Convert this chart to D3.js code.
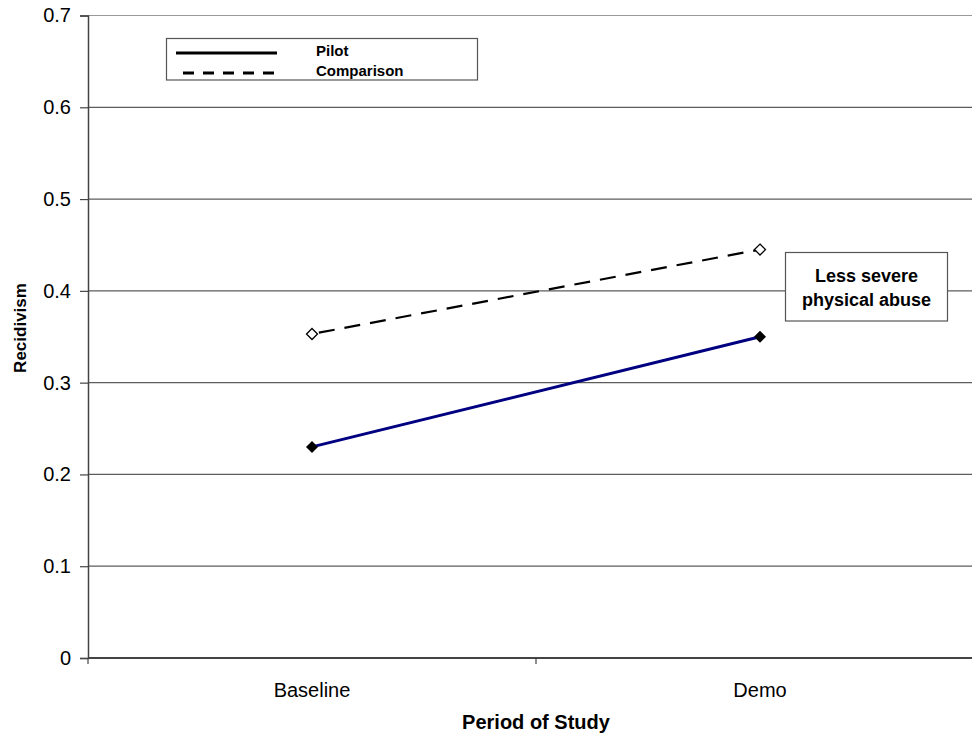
<!DOCTYPE html>
<html>
<head>
<meta charset="utf-8">
<script src="https://cdn.jsdelivr.net/npm/d3@7/dist/d3.min.js"></script>
<style>
  html, body { margin: 0; padding: 0; background: #fff; }
  svg { display: block; font-family: "Liberation Sans", Arial, sans-serif; }
</style>
</head>
<body>
<svg id="chart" width="972" height="734"></svg>
<script>
// Recidivism by period of study
const periods = ["Baseline", "Demo"];
const pilotValues = [0.23, 0.35];
const comparisonValues = [0.353, 0.445];
const yTicks = [0, 0.1, 0.2, 0.3, 0.4, 0.5, 0.6, 0.7];
const seriesNames = ["Pilot", "Comparison"];
const noteLines = ["Less severe", "physical abuse"];

const svg = d3.select("#chart");
const plotLeft = 88, plotRight = 984, plotTop = 15.5, plotBottom = 658;

const x = d3.scaleBand().domain(periods).range([plotLeft, plotRight]);
const y = d3.scaleLinear().domain([0, 0.7]).range([plotBottom, plotTop]);

// horizontal gridlines
svg.append("g")
  .selectAll("line")
  .data(yTicks.filter(d => d > 0))
  .join("line")
  .attr("x1", plotLeft).attr("x2", plotRight)
  .attr("y1", d => y(d)).attr("y2", d => y(d))
  .attr("stroke", d => d === 0.7 ? "#9a9a9a" : "#5c5c5c")
  .attr("stroke-width", 1.2);

// y axis
const yAxis = svg.append("g")
  .attr("transform", `translate(${plotLeft},0)`)
  .call(d3.axisLeft(y).tickValues(yTicks).tickFormat(d => d === 0 ? "0" : d3.format(".1f")(d)).tickSize(8).tickPadding(9));
yAxis.select(".domain").attr("stroke", "#444").attr("stroke-width", 1.5);
yAxis.selectAll(".tick line").attr("stroke", "#444").attr("stroke-width", 1.2);
yAxis.selectAll(".tick text")
  .attr("font-size", 20).attr("fill", "#000")
  .attr("font-family", "Liberation Sans, Arial, sans-serif");

// x axis
const xAxis = svg.append("g")
  .attr("transform", `translate(0,${plotBottom})`)
  .call(d3.axisBottom(x).tickSize(0).tickPadding(25));
xAxis.select(".domain").remove();
xAxis.selectAll(".tick text")
  .attr("font-size", 20).attr("fill", "#000")
  .attr("font-family", "Liberation Sans, Arial, sans-serif");
svg.append("line")
  .attr("x1", plotLeft).attr("x2", plotRight)
  .attr("y1", plotBottom).attr("y2", plotBottom)
  .attr("stroke", "#444").attr("stroke-width", 1.8);
// category boundary ticks
svg.append("g").selectAll("line")
  .data(periods.slice(1))
  .join("line")
  .attr("x1", d => x(d)).attr("x2", d => x(d))
  .attr("y1", plotBottom).attr("y2", plotBottom + 6)
  .attr("stroke", "#444").attr("stroke-width", 1.2);
svg.append("line")
  .attr("x1", plotLeft).attr("x2", plotLeft)
  .attr("y1", plotBottom).attr("y2", plotBottom + 6)
  .attr("stroke", "#444").attr("stroke-width", 1.2);

const cx = d => x(d) + x.bandwidth() / 2;
const line = d3.line().x(d => cx(d.p)).y(d => y(d.v));
const pilot = periods.map((p, i) => ({ p, v: pilotValues[i] }));
const comparison = periods.map((p, i) => ({ p, v: comparisonValues[i] }));

// comparison series: dashed black line, open diamonds
svg.append("path")
  .datum(comparison)
  .attr("d", line)
  .attr("fill", "none")
  .attr("stroke", "#000")
  .attr("stroke-width", 2.2)
  .attr("stroke-dasharray", "16,10")
  .attr("stroke-dashoffset", -7);

// pilot series: navy line, filled diamonds
svg.append("path")
  .datum(pilot)
  .attr("d", line)
  .attr("fill", "none")
  .attr("stroke", "#000080")
  .attr("stroke-width", 3);

const diamond = r => `M0,${-r}L${r},0L0,${r}L${-r},0Z`;
svg.append("g").selectAll("path")
  .data(comparison)
  .join("path")
  .attr("transform", d => `translate(${cx(d.p)},${y(d.v)})`)
  .attr("d", diamond(5.5))
  .attr("fill", "#fff")
  .attr("stroke", "#000")
  .attr("stroke-width", 1.3);
svg.append("g").selectAll("path")
  .data(pilot)
  .join("path")
  .attr("transform", d => `translate(${cx(d.p)},${y(d.v)})`)
  .attr("d", diamond(6))
  .attr("fill", "#000");

// legend
const legend = svg.append("g");
legend.append("rect")
  .attr("x", 166.5).attr("y", 38.5).attr("width", 311).attr("height", 41.5)
  .attr("fill", "#fff").attr("stroke", "#555").attr("stroke-width", 1.2);
legend.append("line")
  .attr("x1", 176).attr("x2", 277).attr("y1", 53).attr("y2", 53)
  .attr("stroke", "#000").attr("stroke-width", 3);
legend.append("line")
  .attr("x1", 183).attr("x2", 277).attr("y1", 73).attr("y2", 73)
  .attr("stroke", "#000").attr("stroke-width", 3)
  .attr("stroke-dasharray", "11,9");
legend.selectAll("text")
  .data(seriesNames)
  .join("text")
  .attr("x", 316)
  .attr("y", (d, i) => 56 + i * 20)
  .attr("font-size", 15).attr("font-weight", "bold")
  .text(d => d);

// note box
const note = svg.append("g");
note.append("rect")
  .attr("x", 785.5).attr("y", 252.5).attr("width", 162).attr("height", 68.5)
  .attr("fill", "#fff").attr("stroke", "#555").attr("stroke-width", 1.2);
note.selectAll("text")
  .data(noteLines)
  .join("text")
  .attr("x", 866.5)
  .attr("y", (d, i) => 282 + i * 23.5)
  .attr("text-anchor", "middle")
  .attr("font-size", 18).attr("font-weight", "bold")
  .text(d => d);

// axis titles
svg.append("text")
  .attr("transform", "translate(26,328) rotate(-90)")
  .attr("text-anchor", "middle")
  .attr("font-size", 17).attr("font-weight", "bold")
  .text("Recidivism");
svg.append("text")
  .attr("x", 536).attr("y", 729)
  .attr("text-anchor", "middle")
  .attr("font-size", 20).attr("font-weight", "bold")
  .text("Period of Study");
</script>
</body>
</html>
